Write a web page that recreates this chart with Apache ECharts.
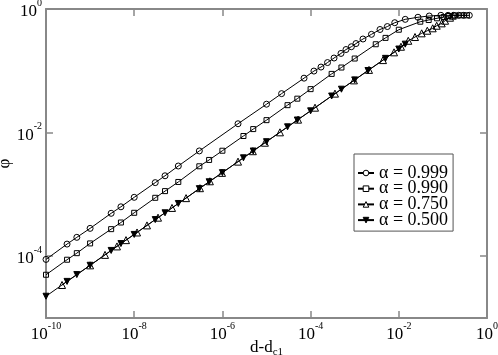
<!DOCTYPE html>
<html>
<head>
<meta charset="utf-8">
<script src="https://cdn.jsdelivr.net/npm/echarts@6/dist/echarts.min.js"></script>
<style>
html,body{margin:0;padding:0;background:#fff;}
#main{width:498px;height:355px;}
</style>
</head>
<body>
<div id="main"></div>
<script>
// alpha = 0.999 (open circles)
var x999 = [1e-10, 3e-10, 5e-10, 1e-9, 3e-9, 5e-9, 1e-8, 3e-8, 5e-8, 1e-7, 3e-7, 2.26e-6, 1e-5, 2.2e-5, 7.1e-5, 1.19e-4, 1.72e-4, 2.42e-4, 3.4e-4, 4.89e-4, 6.35e-4, 8.4e-4, 1.07e-3, 1.54e-3, 2.4e-3, 3.75e-3, 5.5e-3, 8.1e-3, 1.4e-2, 2.72e-2, 4.9e-2, 9e-2, 0.131, 0.176, 0.228, 0.297, 0.397];
var y999 = [8.87e-5, 1.57e-4, 2.02e-4, 2.82e-4, 4.94e-4, 6.3e-4, 8.97e-4, 1.55e-3, 2.0e-3, 2.88e-3, 5.05e-3, 1.39e-2, 2.88e-2, 4.27e-2, 7.6e-2, 9.9e-2, 0.115, 0.136, 0.161, 0.191, 0.221, 0.245, 0.276, 0.327, 0.389, 0.466, 0.52, 0.60, 0.68, 0.735, 0.77, 0.79, 0.79, 0.79, 0.79, 0.79, 0.79];
// alpha = 0.990 (open squares)
var x990 = [1e-10, 3e-10, 5e-10, 1e-9, 3e-9, 5e-9, 1e-8, 3e-8, 5e-8, 1e-7, 3e-7, 5e-7, 1e-6, 3e-6, 5e-6, 1e-5, 3e-5, 5e-5, 1e-4, 3e-4, 5e-4, 1e-3, 3e-3, 5e-3, 1e-2, 3.07e-2, 4.76e-2, 7.35e-2, 0.104, 0.135, 0.188, 0.26, 0.35];
var y990 = [5.01e-5, 8.77e-5, 1.12e-4, 1.61e-4, 2.74e-4, 3.51e-4, 5.04e-4, 8.81e-4, 1.13e-3, 1.59e-3, 2.85e-3, 3.61e-3, 5.09e-3, 8.81e-3, 1.14e-2, 1.59e-2, 2.78e-2, 3.54e-2, 5.05e-2, 8.91e-2, 0.113, 0.158, 0.269, 0.341, 0.462, 0.623, 0.663, 0.707, 0.742, 0.77, 0.785, 0.79, 0.79];
// alpha = 0.750 (open triangles)
var x750 = [2.31e-10, 1e-9, 2.18e-9, 4.07e-9, 6.52e-9, 1.16e-8, 1.95e-8, 3.47e-8, 7.2e-8, 1.5e-7, 3.1e-7, 5.2e-7, 9.8e-7, 2.26e-6, 4.9e-6, 9.2e-6, 2.02e-5, 5.2e-5, 1.26e-4, 3.57e-4, 9.6e-4, 2.11e-3, 4.38e-3, 7.8e-3, 1.12e-2, 1.64e-2, 2.33e-2, 3.3e-2, 4.43e-2, 5.87e-2, 7.23e-2, 9.4e-2, 0.112, 0.145, 0.167];
var y750 = [3.42e-5, 7.11e-5, 1.05e-4, 1.44e-4, 1.82e-4, 2.42e-4, 3.15e-4, 4.2e-4, 6.04e-4, 8.7e-4, 1.26e-3, 1.63e-3, 2.23e-3, 3.39e-3, 5.0e-3, 6.86e-3, 1.01e-2, 1.62e-2, 2.53e-2, 4.27e-2, 7.0e-2, 0.1035, 0.149, 0.199, 0.245, 0.306, 0.352, 0.404, 0.445, 0.487, 0.536, 0.586, 0.646, 0.723, 0.779];
// alpha = 0.500 (filled down triangles)
var x500 = [1e-10, 3e-10, 5e-10, 1e-9, 3e-9, 5e-9, 1e-8, 3e-8, 5e-8, 1e-7, 3e-7, 5e-7, 1e-6, 3e-6, 5e-6, 1e-5, 3e-5, 5e-5, 1e-4, 3e-4, 5e-4, 1e-3, 2e-3, 5e-3, 1e-2, 1.4e-2];
var y500 = [2.25e-5, 3.91e-5, 5.04e-5, 7.13e-5, 1.24e-4, 1.60e-4, 2.25e-4, 3.91e-4, 5.04e-4, 7.13e-4, 1.24e-3, 1.60e-3, 2.25e-3, 3.91e-3, 5.04e-3, 7.13e-3, 1.24e-2, 1.60e-2, 2.25e-2, 3.91e-2, 5.04e-2, 7.13e-2, 0.101, 0.159, 0.225, 0.27];

var names = ['α = 0.999', 'α = 0.990', 'α = 0.750', 'α = 0.500'];
var xTicks = [1e-10, 1e-8, 1e-6, 1e-4, 1e-2, 1];
var yTicks = [1e-4, 1e-2, 1];

var FONT = 'Liberation Serif';
var AXIS = '#888';
var OPEN = {color: '#fff', borderColor: '#000', borderWidth: 1};
var SOLID = {color: '#000', borderColor: '#000', borderWidth: 1};

function zip(xs, ys){
	var out = [];
	for(var i=0;i<xs.length;i++) out.push([xs[i], ys[i]]);
	return out;
}
function powLabel(v){
	var e = Math.round(Math.log10(v));
	return '{b|10}{s|' + e + '}';
}
var richPow = {
	b: {fontFamily: FONT, fontSize: 17, color: '#000', lineHeight: 22, verticalAlign: 'bottom'},
	s: {fontFamily: FONT, fontSize: 10, color: '#000', lineHeight: 11, verticalAlign: 'top'}
};

function axisBase(ticks, show){
	return {
		axisLine: {show: true, lineStyle: {color: AXIS, width: 2}},
		axisTick: {show: true, inside: true, length: 7, customValues: ticks, lineStyle: {color: AXIS, width: 1.5}},
		axisLabel: {show: show, customValues: ticks, formatter: powLabel, rich: richPow},
		splitLine: {show: false},
		minorTick: {show: false}
	};
}

var chart = echarts.init(document.getElementById('main'));

var xBottom = axisBase(xTicks, true);
xBottom.type = 'log'; xBottom.min = 1e-10; xBottom.max = 1; xBottom.position = 'bottom';
xBottom.axisLabel.margin = 3;
xBottom.name = '{n|d-d}{sub|c1}';
xBottom.nameLocation = 'middle';
xBottom.nameGap = 21;
xBottom.nameMoveOverlap = false;
xBottom.nameTextStyle = {
	rich: {
		n: {fontFamily: FONT, fontSize: 17, color: '#000', lineHeight: 16, verticalAlign: 'top'},
		sub: {fontFamily: FONT, fontSize: 11, color: '#000', lineHeight: 12, padding: [8, 0, 0, 0], verticalAlign: 'top'}
	}
};
var xTop = axisBase(xTicks, false);
xTop.type = 'log'; xTop.min = 1e-10; xTop.max = 1; xTop.position = 'top';

var yLeft = axisBase(yTicks, true);
yLeft.type = 'log'; yLeft.min = 1e-5; yLeft.max = 1; yLeft.position = 'left';
yLeft.axisLabel.margin = 4;
yLeft.name = 'φ';
yLeft.nameLocation = 'middle';
yLeft.nameGap = 33;
yLeft.nameMoveOverlap = false;
yLeft.nameTextStyle = {fontFamily: FONT, fontSize: 17, color: '#000'};
var yRight = axisBase(yTicks, false);
yRight.type = 'log'; yRight.min = 1e-5; yRight.max = 1; yRight.position = 'right';

function mkSeries(name, xs, ys, symbol, size, filled, rotate){
	return {
		name: name,
		type: 'line',
		data: zip(xs, ys),
		symbol: symbol,
		symbolSize: size,
		symbolRotate: rotate || 0,
		showAllSymbol: true,
		animation: false,
		lineStyle: {color: '#000', width: 1},
		itemStyle: filled ? SOLID : {color: 'rgba(255,255,255,0)', borderColor: '#000', borderWidth: 1},
		emphasis: {disabled: true}
	};
}

chart.setOption({
	backgroundColor: '#fff',
	animation: false,
	grid: {left: 46, top: 9, right: 11, bottom: 37, containLabel: false, outerBoundsMode: 'none'},
	xAxis: [xBottom, xTop],
	yAxis: [yLeft, yRight],
	legend: {
		data: [
			{name: names[0], itemStyle: OPEN},
			{name: names[1], itemStyle: OPEN},
			{name: names[2], itemStyle: OPEN},
			{name: names[3], itemStyle: SOLID}
		],
		orient: 'vertical',
		left: 354,
		top: 154,
		itemWidth: 16,
		itemHeight: 7,
		itemGap: -2.3,
		padding: [10, 5, 2, 3],
		borderColor: '#555',
		borderWidth: 1,
		backgroundColor: '#fff',
		textStyle: {fontFamily: FONT, fontSize: 18, color: '#000', lineHeight: 15}
	},
	series: [
		mkSeries(names[0], x999, y999, 'circle', 6, false),
		mkSeries(names[1], x990, y990, 'rect', 5, false),
		mkSeries(names[2], x750, y750, 'triangle', 7, false),
		mkSeries(names[3], x500, y500, 'triangle', 6, true, 180)
	]
});
</script>
</body>
</html>
